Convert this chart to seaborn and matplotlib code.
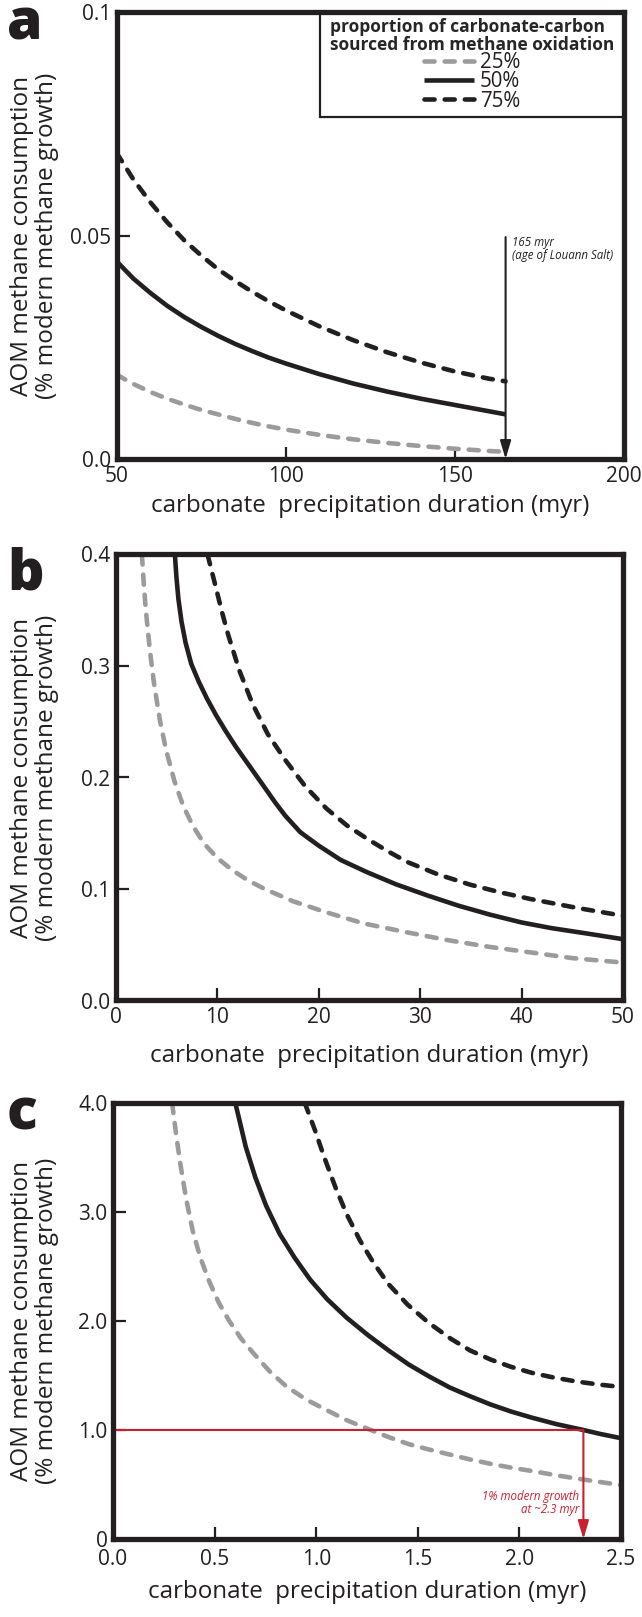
import matplotlib
matplotlib.use("Agg")
import matplotlib.pyplot as plt
import seaborn as sns
from matplotlib.patches import Rectangle

# ------------------------------
# data
# ------------------------------
proportions = ["25%", "50%", "75%"]
legend_title = "proportion of carbonate-carbon\nsourced from methane oxidation"

# panel a : 50-165 myr
a_x = [50, 55, 60, 65, 70, 75, 80, 85, 90, 95, 100, 110, 120, 130, 140, 150, 160, 165]
a_25 = [0.0189, 0.0168, 0.0150, 0.0135, 0.0122, 0.0110, 0.0100, 0.0090, 0.0081, 0.0073,
        0.0066, 0.0054, 0.0044, 0.0036, 0.0029, 0.0023, 0.0018, 0.0016]
a_50 = [0.0443, 0.0404, 0.0372, 0.0343, 0.0318, 0.0296, 0.0276, 0.0258, 0.0242, 0.0227,
        0.0214, 0.0190, 0.0169, 0.0151, 0.0135, 0.0121, 0.0107, 0.0100]
a_75 = [0.0686, 0.0626, 0.0575, 0.0530, 0.0490, 0.0456, 0.0425, 0.0399, 0.0375, 0.0353,
        0.0333, 0.0297, 0.0266, 0.0239, 0.0216, 0.0196, 0.0180, 0.0174]

# panel b : 0-50 myr
b_x25 = [2.6, 2.8, 3.0, 3.4, 3.8, 4.4, 5.0, 5.8, 6.65, 7.6, 8.7, 10.0, 11.5, 13.0, 14.7,
         17.5, 20.8, 24.5, 28.8, 32.8, 36.9, 41.0, 45.0, 50.0]
b_25 = [0.400, 0.372, 0.349, 0.313, 0.284, 0.250, 0.224, 0.197, 0.175, 0.157, 0.141, 0.128,
        0.117, 0.108, 0.100, 0.089, 0.079, 0.069, 0.061, 0.054, 0.048, 0.043, 0.038, 0.034]
b_x50 = [5.85, 6.0, 6.2, 6.5, 6.9, 7.46, 8.2, 9.0, 9.9, 10.9, 11.9, 13.3, 14.7, 15.7, 16.7,
         18.2, 20.0, 22.2, 24.8, 27.7, 30.8, 33.8, 36.9, 40.0, 42.9, 46.5, 50.0]
b_50 = [0.400, 0.380, 0.360, 0.340, 0.321, 0.302, 0.286, 0.271, 0.256, 0.241, 0.227, 0.209,
        0.191, 0.178, 0.166, 0.151, 0.139, 0.126, 0.115, 0.104, 0.094, 0.085, 0.077, 0.070,
        0.065, 0.060, 0.055]
b_x75 = [9.07, 9.4, 9.9, 10.5, 11.1, 12.2, 13.5, 15.0, 16.7, 18.7, 20.8, 22.8, 24.8, 26.8,
         28.8, 31.8, 34.9, 37.9, 40.9, 45.5, 50.0]
b_75 = [0.400, 0.388, 0.370, 0.348, 0.328, 0.296, 0.266, 0.239, 0.216, 0.192, 0.172, 0.157,
        0.145, 0.134, 0.124, 0.113, 0.104, 0.097, 0.091, 0.083, 0.076]

# panel c : 0-2.5 myr
c_x25 = [0.291, 0.31, 0.331, 0.36, 0.392, 0.43, 0.472, 0.52, 0.572, 0.63, 0.693, 0.77, 0.853,
         0.95, 1.054, 1.15, 1.255, 1.356, 1.456, 1.557, 1.657, 1.757, 1.857, 1.958, 2.058,
         2.18, 2.299, 2.4, 2.5]
c_25 = [4.0, 3.72, 3.445, 3.12, 2.83, 2.58, 2.37, 2.17, 2.0, 1.84, 1.70, 1.54, 1.40, 1.28,
        1.18, 1.09, 1.01, 0.935, 0.870, 0.82, 0.775, 0.730, 0.690, 0.655, 0.625, 0.585,
        0.550, 0.522, 0.495]
c_x50 = [0.602, 0.625, 0.653, 0.70, 0.753, 0.82, 0.894, 0.97, 1.054, 1.15, 1.255, 1.356,
         1.456, 1.557, 1.657, 1.757, 1.857, 1.958, 2.058, 2.18, 2.315, 2.4, 2.5]
c_50 = [4.0, 3.82, 3.6, 3.32, 3.06, 2.80, 2.58, 2.38, 2.20, 2.03, 1.87, 1.73, 1.60, 1.49,
        1.39, 1.31, 1.235, 1.17, 1.115, 1.055, 1.0, 0.963, 0.925]
c_x75 = [0.944, 0.994, 1.04, 1.094, 1.15, 1.215, 1.28, 1.355, 1.45, 1.556, 1.66, 1.757,
         1.86, 1.958, 2.06, 2.159, 2.28, 2.4, 2.5]
c_75 = [4.0, 3.75, 3.50, 3.23, 2.98, 2.74, 2.54, 2.34, 2.15, 1.98, 1.84, 1.73, 1.645, 1.58,
        1.525, 1.485, 1.445, 1.415, 1.395]

# annotations
louann_age = 165
louann_top = 0.0497
growth_level = 1.0
growth_time = 2.315

# ------------------------------
# style
# ------------------------------
sns.set_style("ticks")
plt.rcParams["font.family"] = ["Open Sans", "DejaVu Sans"]

GRAY = "#9b9b9b"
BLACK = "#231f20"
RED = "#c8202f"
LW = 3.3
dashed = (0, (2.2, 2.2))
styles = {
    "25%": dict(color=GRAY, linestyle=dashed, dash_capstyle="round"),
    "50%": dict(color=BLACK, linestyle="-", solid_capstyle="butt"),
    "75%": dict(color=BLACK, linestyle=dashed, dash_capstyle="round"),
}

W, H = 642, 1617
fig = plt.figure(figsize=(W / 100, H / 100), dpi=100)


def axes_px(left, top, right, bottom):
    return fig.add_axes([left / W, 1 - bottom / H, (right - left) / W, (bottom - top) / H])


ax_a = axes_px(116.5, 12.5, 624, 459)
ax_b = axes_px(115.5, 554.5, 623, 1000.5)
ax_c = axes_px(113, 1103, 621, 1539)


def draw_curves(ax, curves):
    for name, xs, ys in curves:
        sns.lineplot(x=xs, y=ys, ax=ax, lw=LW, legend=False, zorder=2, **styles[name])


draw_curves(ax_a, [("25%", a_x, a_25), ("50%", a_x, a_50), ("75%", a_x, a_75)])
draw_curves(ax_b, [("25%", b_x25, b_25), ("50%", b_x50, b_50), ("75%", b_x75, b_75)])
draw_curves(ax_c, [("25%", c_x25, c_25), ("50%", c_x50, c_50), ("75%", c_x75, c_75)])


def setup(ax, xlim, ylim, xticks, xlabels, yticks, ylabels, xlab_y, ylab_x, letter, letter_y,
          xpad=5):
    ax.set_xlim(*xlim)
    ax.set_ylim(*ylim)
    ax.set_xticks(xticks)
    ax.set_xticklabels(xlabels)
    ax.set_yticks(yticks)
    ax.set_yticklabels(ylabels)
    ax.tick_params(direction="in", length=9, width=1.6, color=BLACK, labelsize=15,
                   labelcolor=BLACK)
    ax.tick_params(axis="x", pad=xpad)
    ax.tick_params(axis="y", pad=4)
    for sp in ax.spines.values():
        sp.set_visible(True)
        sp.set_linewidth(3.8)
        sp.set_color(BLACK)
        sp.set_zorder(5)
    ax.set_xlabel("carbonate  precipitation duration (myr)", fontsize=17.4, color=BLACK)
    ax.set_ylabel("AOM methane consumption\n(% modern methane growth)", fontsize=17.5,
                  color=BLACK, linespacing=1.1)
    ax.xaxis.set_label_coords(0.5, xlab_y)
    ax.xaxis.label.set_va("center")
    ax.yaxis.set_label_coords(ylab_x, 0.5)
    ax.yaxis.label.set_va("center")
    fig.text(7 / W, 1 - letter_y / H, letter, fontsize=41, fontweight="heavy",
             color=BLACK, ha="left", va="baseline")


setup(ax_a, (50, 200), (0, 0.1), [50, 100, 150, 200], ["50", "100", "150", "200"],
      [0, 0.05, 0.1], ["0.0", "0.05", "0.1"], -0.105, -0.1616, "a", 40)
setup(ax_b, (0, 50), (0, 0.4), [0, 10, 20, 30, 40, 50], ["0", "10", "20", "30", "40", "50"],
      [0, 0.1, 0.2, 0.3, 0.4], ["0.0", "0.1", "0.2", "0.3", "0.4"], -0.1244, -0.1596, "b", 590)
setup(ax_c, (0, 2.5), (0, 4), [0, 0.5, 1.0, 1.5, 2.0, 2.5],
      ["0.0", "0.5", "1.0", "1.5", "2.0", "2.5"],
      [0, 1, 2, 3, 4], ["0", "1.0", "2.0", "3.0", "4.0"], -0.1216, -0.1545, "c", 1130, xpad=7)

# legend (panel a)
box = Rectangle((0.401, 0.766), 0.599, 0.234, transform=ax_a.transAxes, facecolor="white",
                edgecolor=BLACK, lw=1.6, zorder=4)
ax_a.add_patch(box)
leg = ax_a.legend(handles=ax_a.get_lines()[:3], labels=proportions, title=legend_title,
                  loc="upper center", bbox_to_anchor=(0.7005, 1.021), frameon=False,
                  fontsize=14.8, title_fontproperties={"weight": "bold", "size": 12.5},
                  handlelength=2.45, handletextpad=0.3, labelspacing=-0.08, borderpad=0.2,
                  alignment="center")
leg.set_zorder(6)
leg.get_title().set_linespacing(1.0)
for t in leg.get_texts():
    t.set_color(BLACK)

# 165 myr arrow (panel a)
ax_a.annotate("", xy=(louann_age, 0), xytext=(louann_age, louann_top),
              arrowprops=dict(arrowstyle="-|>,head_length=1.0,head_width=0.3", color=BLACK,
                              lw=1.5, mutation_scale=11, shrinkA=0, shrinkB=0), zorder=3)
ax_a.text(166.9, 0.0470, "165 myr\n(age of Louann Salt)", fontsize=8.3, style="italic",
          color=BLACK, ha="left", va="center", linespacing=1.0)

# 1% modern growth (panel c)
ax_c.plot([0, growth_time], [growth_level, growth_level], color=RED, lw=1.5, zorder=3)
ax_c.annotate("", xy=(growth_time, 0), xytext=(growth_time, growth_level),
              arrowprops=dict(arrowstyle="-|>,head_length=1.0,head_width=0.3", color=RED,
                              lw=1.5, mutation_scale=11, shrinkA=0, shrinkB=0), zorder=3)
ax_c.text(2.293, 0.326, "1% modern growth\nat ~2.3 myr", fontsize=8.3, style="italic",
          color=RED, ha="right", va="center", multialignment="right", linespacing=1.0)

fig.savefig("out.png", dpi=100)
